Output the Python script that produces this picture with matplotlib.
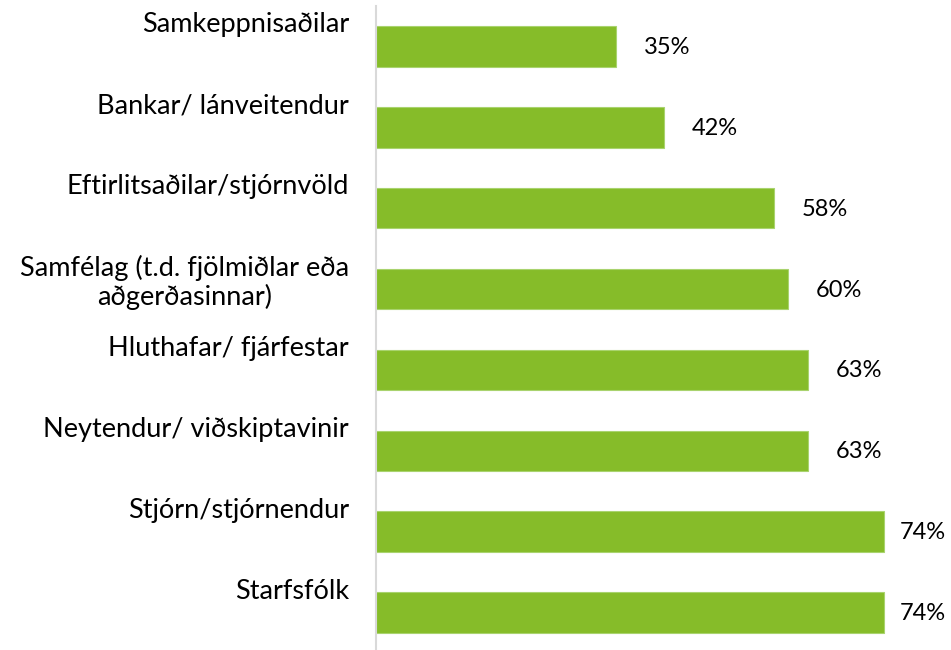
import matplotlib
matplotlib.use("Agg")
import matplotlib.pyplot as plt
import matplotlib.transforms as mtransforms

categories = [
    "Samkeppnisaðilar",
    "Bankar/ lánveitendur",
    "Eftirlitsaðilar/stjórnvöld",
    "Samfélag (t.d. fjölmiðlar eða\naðgerðasinnar)",
    "Hluthafar/ fjárfestar",
    "Neytendur/ viðskiptavinir",
    "Stjórn/stjórnendur",
    "Starfsfólk",
]
values = [35, 42, 58, 60, 63, 63, 74, 74]
value_labels = ["35%", "42%", "58%", "60%", "63%", "63%", "74%", "74%"]

BAR_COLOR = "#86BC29"
EDGE_COLOR = "#A9D36E"
FONT = ["Lato", "DejaVu Sans"]

W, H = 951, 650
DPI = 100
fig = plt.figure(figsize=(W / DPI, H / DPI), dpi=DPI)
fig.patch.set_facecolor("white")

px_per_unit = 6.86
ax_left = 376
ax_top = 6
ax_bottom = 653
ax = fig.add_axes([ax_left / W, (H - ax_bottom) / H, (W - ax_left) / W, (ax_bottom - ax_top) / H])

y = list(range(len(categories)))
ax.barh(y, values, height=0.5, color=BAR_COLOR, edgecolor=EDGE_COLOR, linewidth=0.8)
ax.set_xlim(0, (W - ax_left) / px_per_unit)
ax.set_ylim(len(categories) - 0.5, -0.5)

for s in ["top", "right", "bottom"]:
    ax.spines[s].set_visible(False)
ax.spines["left"].set_color("#D9D9D9")
ax.spines["left"].set_linewidth(1.5)
ax.set_xticks([])
ax.set_yticks([])

# category labels: right-aligned left of axis, top-aligned above bar centre
blend = mtransforms.blended_transform_factory(ax.transAxes, ax.transData)
off = mtransforms.ScaledTranslation(-27 / DPI, 34 / DPI, fig.dpi_scale_trans)
for i, c in enumerate(categories):
    ax.text(0, i, c, transform=blend + off, ha="right", va="top",
            fontsize=19.5, family=FONT, color="#000000", linespacing=1.15,
            multialignment="center")

# value labels
fig.canvas.draw()
for i, (v, lab) in enumerate(zip(values, value_labels)):
    end_px = ax.transData.transform((v, i))[0]
    label_w = 46
    gap = min(28, (W - 5) - label_w - end_px)
    ax.annotate(lab, xy=(v, i), xytext=(gap * 72 / DPI, -1 * 72 / DPI),
                textcoords="offset points", ha="left", va="center",
                fontsize=17, family=FONT, color="#000000", annotation_clip=False)

fig.savefig("out.png", dpi=DPI, facecolor="white")
